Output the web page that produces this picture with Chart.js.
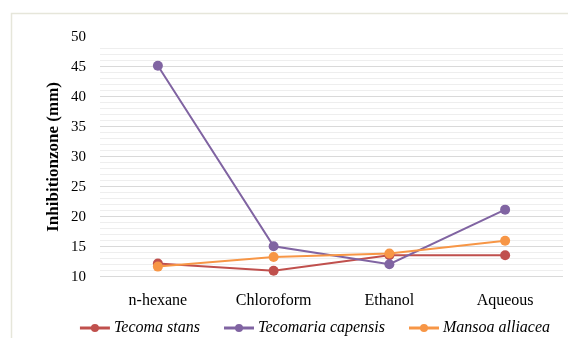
<!DOCTYPE html>
<html>
<head>
<meta charset="utf-8">
<script src="https://cdn.jsdelivr.net/npm/chart.js@4"></script>
<style>
  html, body { margin: 0; padding: 0; background: #ffffff; }
  #wrap { width: 568px; height: 338px; position: relative; }
</style>
</head>
<body>
<div id="wrap"><canvas id="chart" width="568" height="338"></canvas></div>
<script>
// Solvent extracts on the x axis
const categories = ['n-hexane', 'Chloroform', 'Ethanol', 'Aqueous'];

// Inhibition zone diameters (mm) per plant species
const tecomaStans = [12.2, 11.0, 13.6, 13.6];
const tecomariaCapensis = [45.2, 15.1, 12.1, 21.2];
const mansoaAlliacea = [11.7, 13.3, 13.9, 16.0];

const seriesNames = ['Tecoma stans', 'Tecomaria capensis', 'Mansoa alliacea'];
const seriesColors = ['#C0504D', '#8064A2', '#F79646'];

const yMin = 10;
const yMax = 50;

const SERIF = '"Liberation Serif", "Times New Roman", serif';

const seriesValues = [tecomaStans, tecomariaCapensis, mansoaAlliacea];
const drawOrder = [2, 1, 0];

const datasets = seriesValues.map((vals, i) => ({
  label: seriesNames[i],
  data: vals,
  borderColor: seriesColors[i],
  backgroundColor: seriesColors[i],
  borderWidth: 2,
  pointRadius: 5,
  pointHoverRadius: 5,
  pointBorderWidth: 0,
  tension: 0,
  order: drawOrder[i]
}));

// Light frame around the figure
const framePlugin = {
  id: 'frame',
  beforeDraw(chart) {
    const ctx = chart.ctx;
    ctx.save();
    ctx.fillStyle = '#ffffff';
    ctx.fillRect(0, 0, chart.width, chart.height);
    ctx.strokeStyle = '#E6E6DA';
    ctx.lineWidth = 1.5;
    ctx.strokeRect(11.5, 13.5, chart.width + 20, chart.height + 20);
    ctx.restore();
  }
};

// Series key along the bottom: line-with-dot swatch followed by an italic name
const seriesKey = {
  id: 'seriesKey',
  afterDraw(chart) {
    const ctx = chart.ctx;
    const sets = chart.data.datasets;
    const swatchW = 30, textGap = 4, itemGap = 24;
    const cy = 328, centerX = 315;
    ctx.save();
    ctx.font = 'italic 16px ' + SERIF;
    const widths = sets.map(ds => ctx.measureText(ds.label).width);
    const total = widths.reduce((s, w) => s + swatchW + textGap + w, 0) + itemGap * (sets.length - 1);
    let x = centerX - total / 2;
    sets.forEach((ds, i) => {
      ctx.strokeStyle = ds.borderColor;
      ctx.lineWidth = 3;
      ctx.beginPath();
      ctx.moveTo(x, cy); ctx.lineTo(x + swatchW, cy);
      ctx.stroke();
      ctx.fillStyle = ds.borderColor;
      ctx.beginPath();
      ctx.arc(x + swatchW / 2, cy, 4, 0, Math.PI * 2);
      ctx.fill();
      ctx.fillStyle = '#000000';
      ctx.textBaseline = 'middle';
      ctx.textAlign = 'left';
      ctx.fillText(ds.label, x + swatchW + textGap, cy);
      x += swatchW + textGap + widths[i] + itemGap;
    });
    ctx.restore();
  }
};

new Chart(document.getElementById('chart'), {
  type: 'line',
  data: { labels: categories, datasets },
  plugins: [framePlugin, seriesKey],
  options: {
    responsive: false,
    animation: false,
    layout: { padding: { top: 37, right: 0, bottom: 14, left: 0 } },
    plugins: {
      tooltip: { enabled: false },
      legend: { display: false }
    },
    scales: {
      x: {
        offset: true,
        grid: { display: false, drawTicks: false, offset: true },
        border: { display: false },
        ticks: {
          color: '#000000',
          padding: 14,
          maxRotation: 0,
          font: { family: SERIF, size: 16 }
        }
      },
      y: {
        min: yMin,
        max: yMax,
        border: { display: false },
        grid: {
          drawTicks: false,
          lineWidth: 1,
          color(ctx) {
            const v = ctx.tick ? ctx.tick.value : 0;
            if (v >= 49) return 'rgba(0,0,0,0)';
            return v % 5 === 0 ? '#D9D9D9' : '#EEEEEE';
          }
        },
        ticks: {
          stepSize: 1,
          autoSkip: false,
          color: '#000000',
          padding: 14,
          font: { family: SERIF, size: 15 },
          callback(v) { return v % 5 === 0 ? String(v) : ''; }
        },
        title: {
          display: true,
          text: 'Inhibitionzone (mm)',
          color: '#000000',
          padding: { top: 43, bottom: 0 },
          font: { family: SERIF, size: 17, weight: 'bold' }
        },
        afterFit(scale) { scale.width = 100; }
      }
    }
  }
});
</script>
</body>
</html>
